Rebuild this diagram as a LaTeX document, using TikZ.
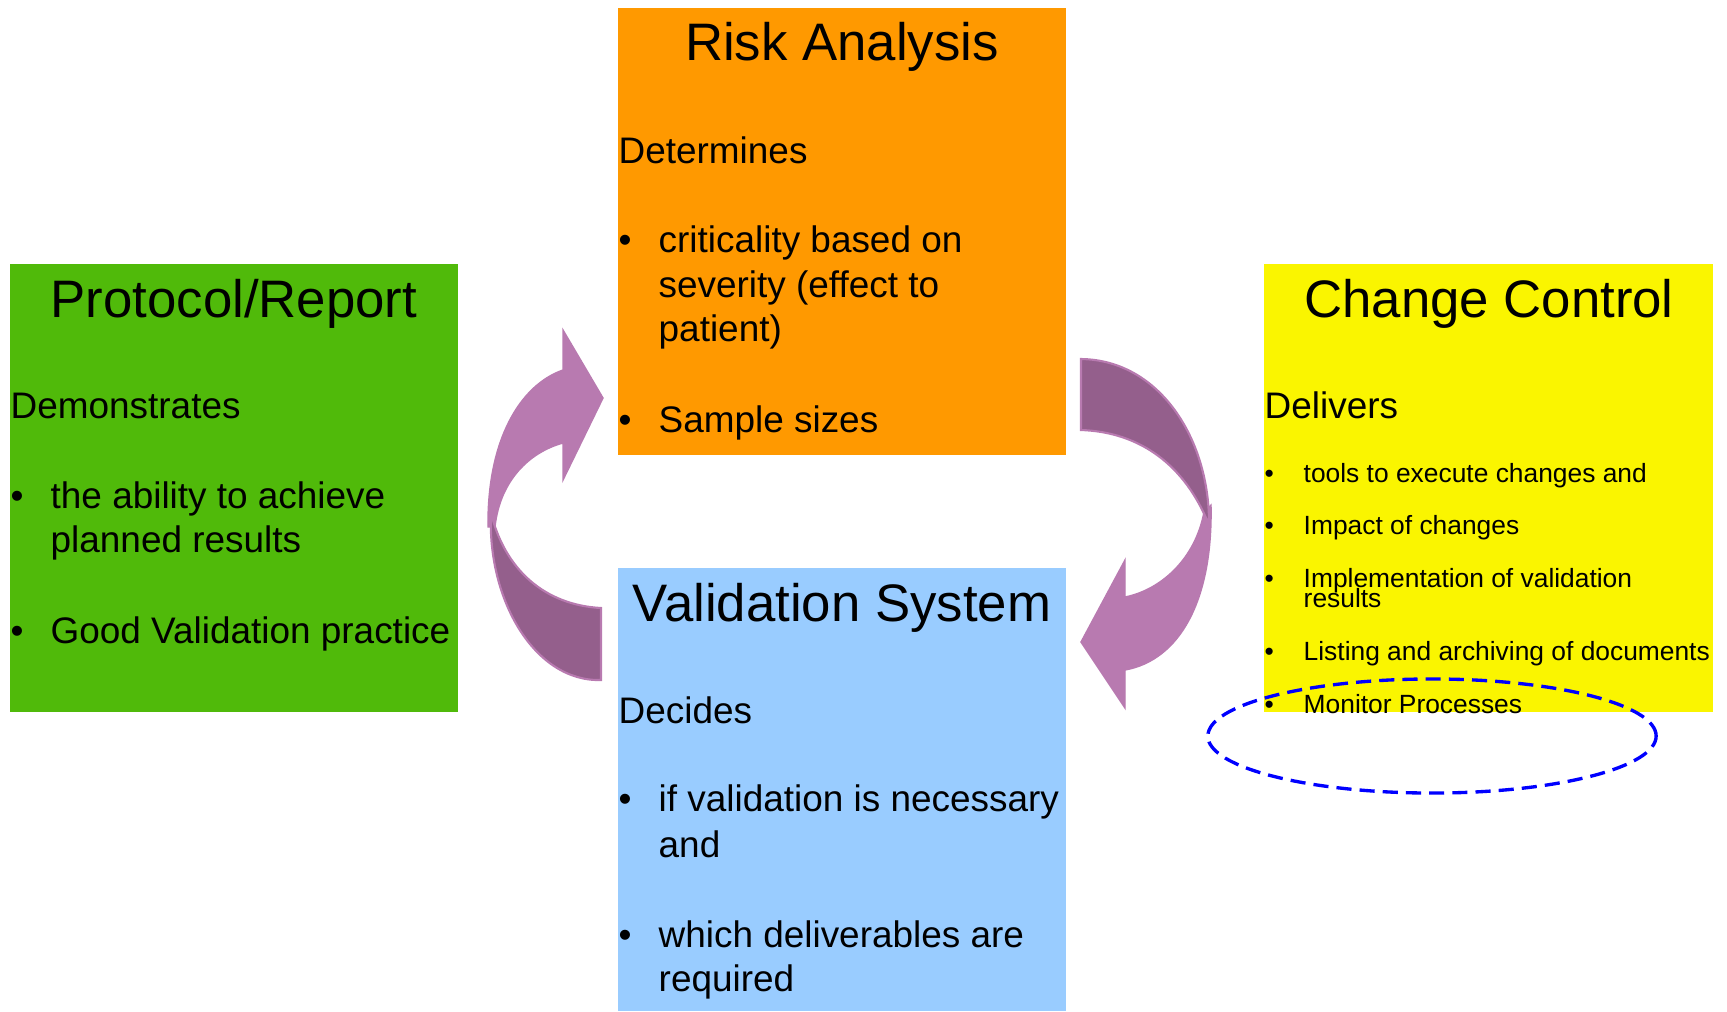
\documentclass[tikz,border=0pt]{standalone}
\usepackage{fontspec}
\setmainfont{Liberation Sans}
\usetikzlibrary{shapes.geometric}
\definecolor{riskorange}{RGB}{255,153,0}
\definecolor{protogreen}{RGB}{80,186,10}
\definecolor{changeyellow}{RGB}{250,245,0}
\definecolor{validblue}{RGB}{153,204,255}
\definecolor{arrowlight}{RGB}{184,122,176}
\definecolor{arrowdark}{RGB}{148,95,140}

\begin{document}
\begin{tikzpicture}[x=0.01cm, y=-0.01cm,
    panel/.style={anchor=north west, inner sep=0, outer sep=0},
    title/.style={anchor=base, inner sep=0, font=\fontsize{15}{18}\selectfont},
    body/.style={anchor=base west, inner sep=0, font=\fontsize{10.5}{12.6}\selectfont},
    small/.style={anchor=base west, inner sep=0, font=\fontsize{7.5}{9}\selectfont},
    headpart/.style={fill=arrowlight, draw=arrowlight, line width=0.4pt},
    tailpart/.style={fill=arrowdark, draw=arrowlight, line width=0.6pt}]
  \useasboundingbox (0,0) rectangle (1727,1011);

  \node(risk) at (618,8) [panel, fill=riskorange, minimum width=4.48cm, minimum height=4.47cm] {};
  \node(proto) at (10,264) [panel, fill=protogreen, minimum width=4.48cm, minimum height=4.48cm] {};
  \node(change) at (1264,264) [panel, fill=changeyellow, minimum width=4.49cm, minimum height=4.48cm] {};
  \node(valid) at (618,568) [panel, fill=validblue, minimum width=4.48cm, minimum height=4.43cm] {};

  \filldraw[headpart] (488,527) .. controls (487,440) and (520,385) .. (563,370) -- (563,330) -- (603,398)
    -- (563,480) -- (563,443) .. controls (530,452) and (500,480) .. (495,527) -- cycle;
  \filldraw[tailpart] (601,608) .. controls (545,605) and (505,570) .. (491,513)
    .. controls (487,600) and (535,682) .. (601,680) -- cycle;

  \filldraw[headpart] (1211,505) .. controls (1213,600) and (1180,660) .. (1125,670) -- (1125,708) -- (1081,642)
    -- (1125,560) -- (1125,597) .. controls (1160,590) and (1195,560) .. (1204,512) -- cycle;
  \filldraw[tailpart] (1081,359) .. controls (1160,360) and (1210,440) .. (1209,525)
    .. controls (1185,465) and (1140,432) .. (1081,430) -- cycle;

  \node(rtitle) at (842,60) [title] {Risk Analysis};
  \node(rsub) at (618,163) [body] {Determines};
  \node(rdot1) at (618,252) [body] {•};
  \node(r1a) at (658,252) [body] {criticality based on};
  \node(r1b) at (658,297) [body] {severity (effect to};
  \node(r1c) at (658,341) [body] {patient)};
  \node(rdot2) at (618,432) [body] {•};
  \node(r2a) at (658,432) [body] {Sample sizes};

  \node(ptitle) at (234,317) [title] {Protocol/Report};
  \node(psub) at (10,418) [body] {Demonstrates};
  \node(pdot1) at (10,508) [body] {•};
  \node(p1a) at (50,508) [body] {the ability to achieve};
  \node(p1b) at (50,552) [body] {planned results};
  \node(pdot2) at (10,643) [body] {•};
  \node(p2a) at (50,643) [body] {Good Validation practice};

  \node(ctitle) at (1489,317) [title] {Change Control};
  \node(csub) at (1264,418) [body] {Delivers};
  \foreach \y in {482,534,587,660,713}
    \node(cdot\y) at (1264,\y) [small] {•};
  \node(c1) at (1303,482) [small] {tools to execute changes and};
  \node(c2) at (1303,534) [small] {Impact of changes};
  \node(c3a) at (1303,587) [small] {Implementation of validation};
  \node(c3b) at (1303,607) [small] {results};
  \node(c4) at (1303,660) [small] {Listing and archiving of documents};
  \node(c5) at (1303,713) [small] {Monitor Processes};

  \node(vtitle) at (842,621) [title] {Validation System};
  \node(vsub) at (618,723) [body] {Decides};
  \node(vdot1) at (618,811) [body] {•};
  \node(v1a) at (658,811) [body] {if validation is necessary};
  \node(v1b) at (658,857) [body] {and};
  \node(vdot2) at (618,947) [body] {•};
  \node(v2a) at (658,947) [body] {which deliverables are};
  \node(v2b) at (658,991) [body] {required};

  \node(monitorring) at (1432,736) [ellipse, draw=blue, line width=0.95pt, dash pattern=on 4.3pt off 2.3pt,
    minimum width=4.48cm, minimum height=1.14cm, inner sep=0] {};
\end{tikzpicture}
\end{document}
